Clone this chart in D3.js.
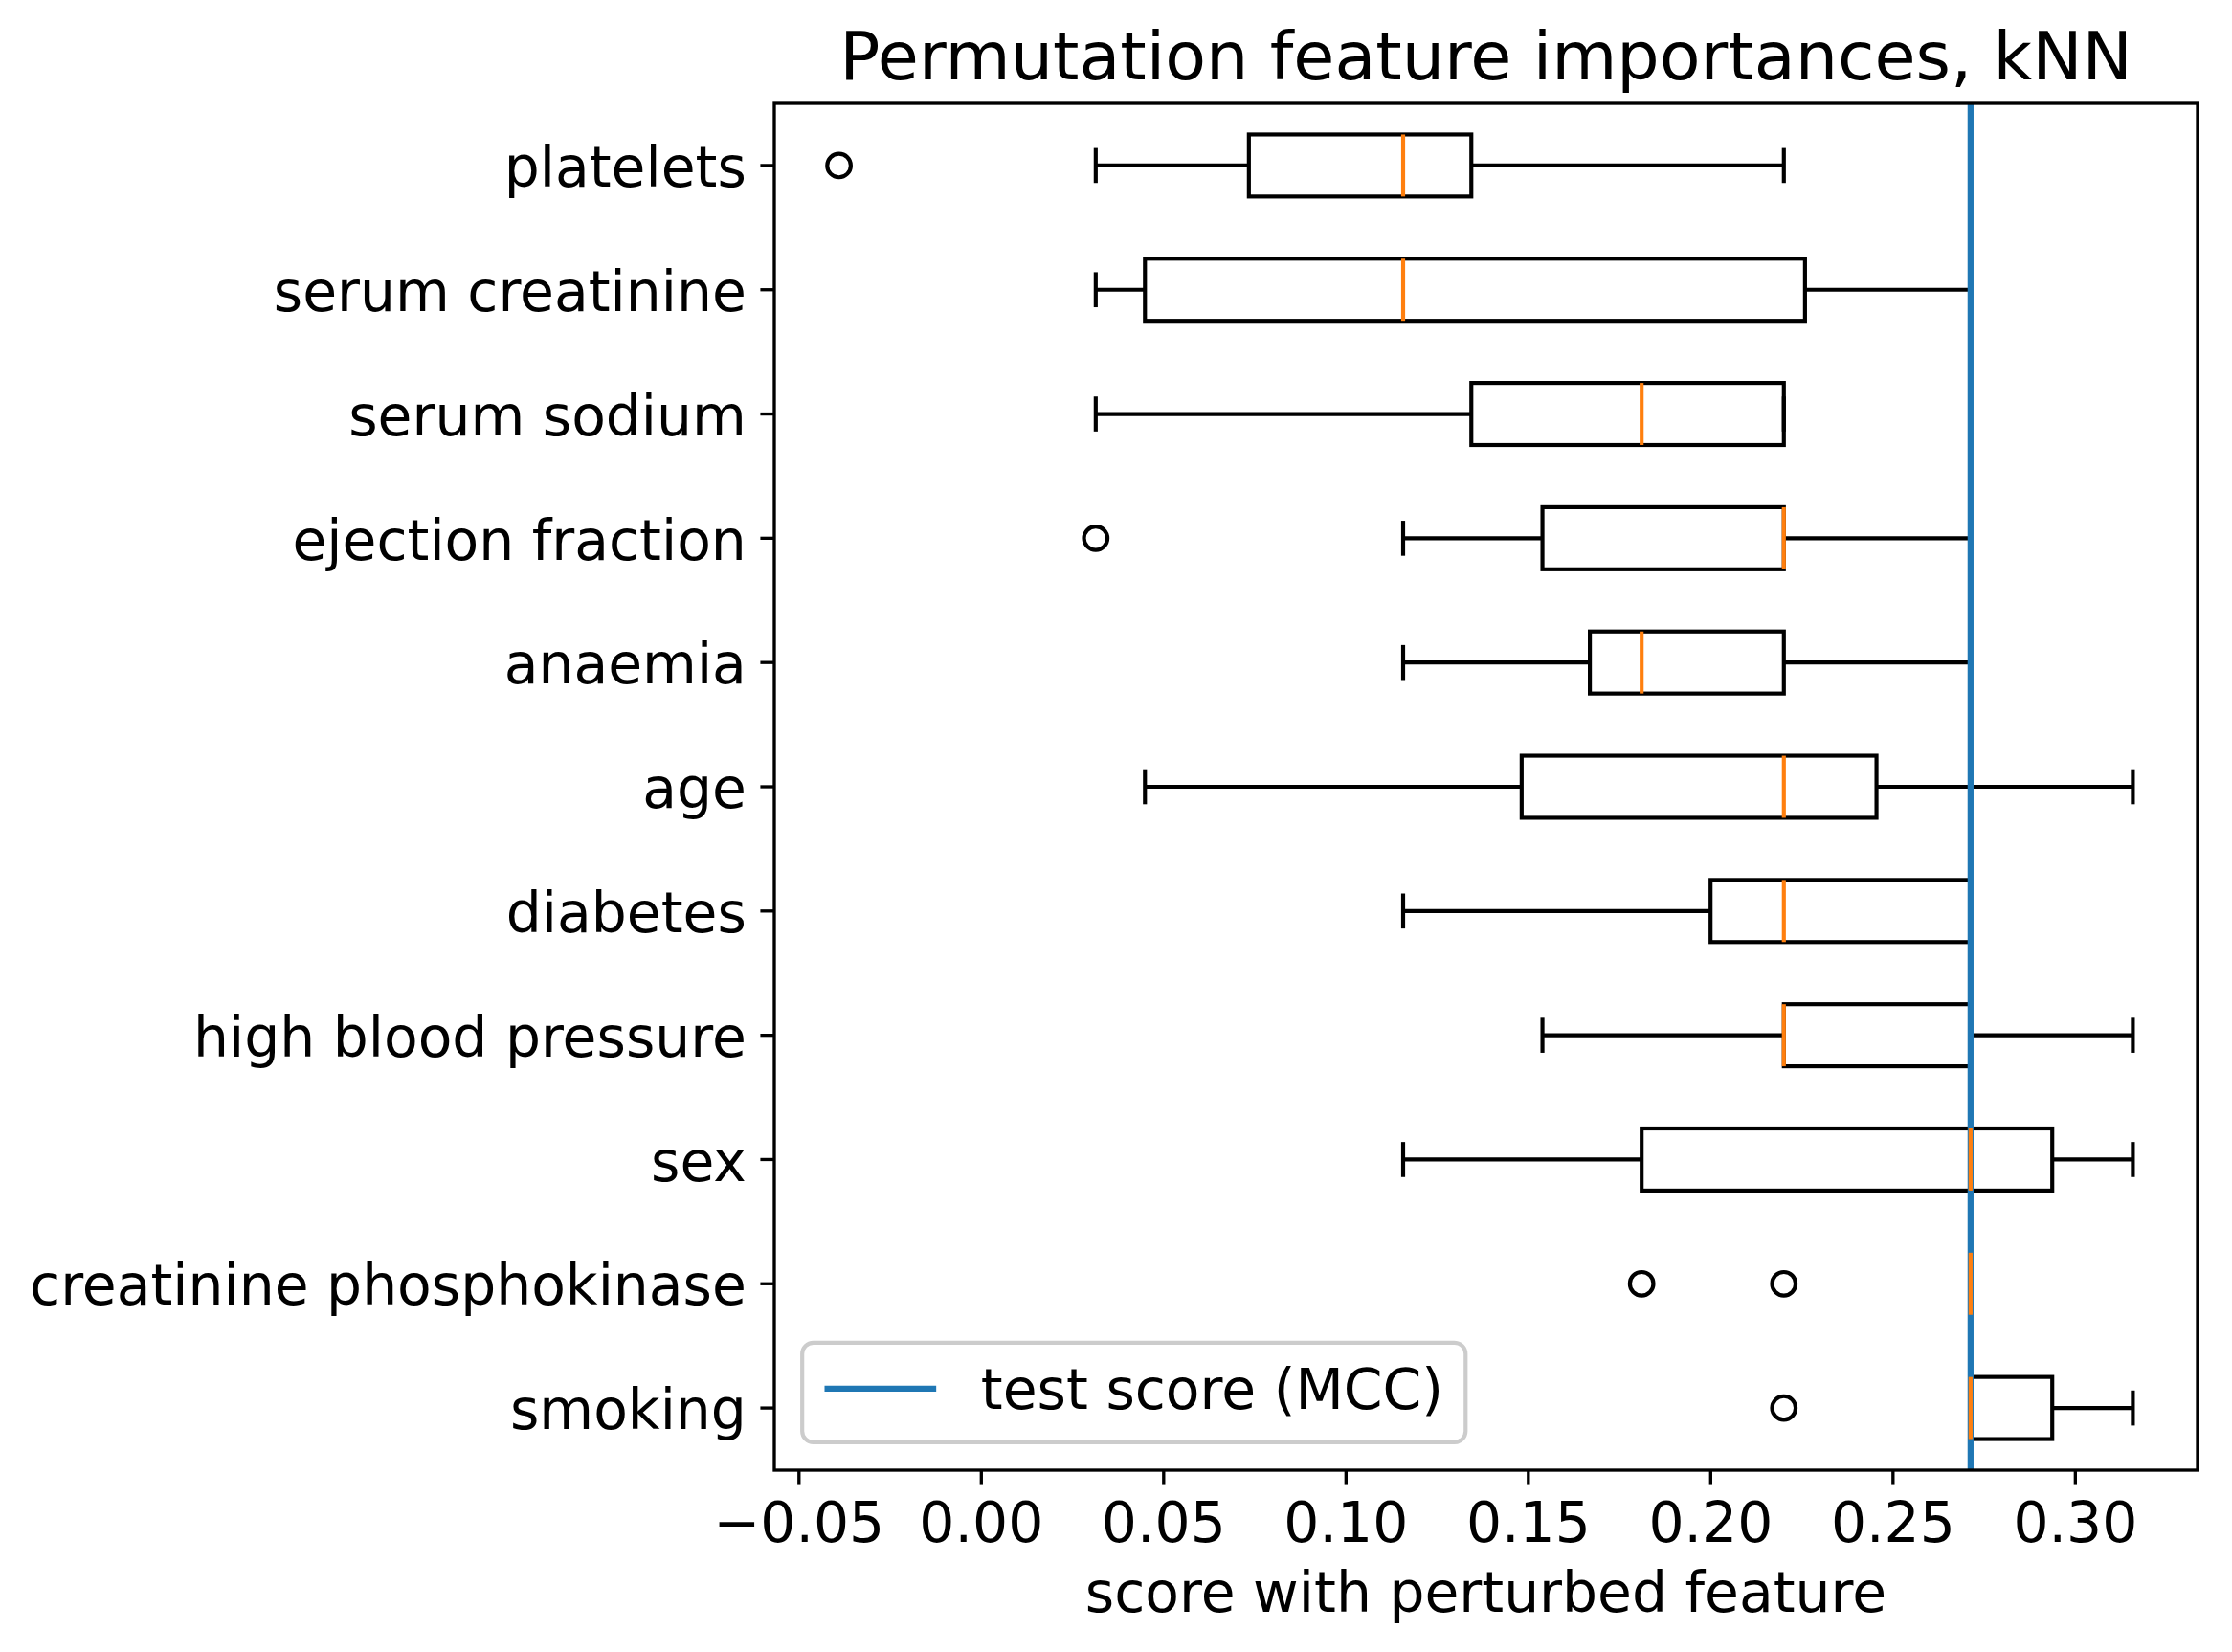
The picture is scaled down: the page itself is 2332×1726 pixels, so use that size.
<!DOCTYPE html>
<html>
<head>
<meta charset="utf-8">
<script src="https://cdn.jsdelivr.net/npm/d3@7"></script>
<style>
  html, body { margin: 0; padding: 0; background: #ffffff; }
  svg { display: block; }
</style>
</head>
<body>
<svg id="chart" width="2332" height="1726"></svg>
<script>
// ---------------- data ----------------
const categories = [
  "platelets", "serum creatinine", "serum sodium", "ejection fraction",
  "anaemia", "age", "diabetes", "high blood pressure", "sex",
  "creatinine phosphokinase", "smoking"
];
const whiskerLow  = [0.0315, 0.0315, 0.0315, 0.1158, 0.1158, 0.0450, 0.1158, 0.1540, 0.1158, 0.2714, 0.2714];
const q1          = [0.0735, 0.0450, 0.1345, 0.1540, 0.1670, 0.1483, 0.2001, 0.2202, 0.1812, 0.2714, 0.2714];
const medians     = [0.1158, 0.1158, 0.1812, 0.2202, 0.1812, 0.2202, 0.2202, 0.2202, 0.2714, 0.2714, 0.2714];
const q3          = [0.1345, 0.2260, 0.2202, 0.2202, 0.2202, 0.2456, 0.2714, 0.2714, 0.2938, 0.2714, 0.2938];
const whiskerHigh = [0.2202, 0.2714, 0.2202, 0.2714, 0.2714, 0.3159, 0.2714, 0.3159, 0.3159, 0.2714, 0.3159];
const outliers    = [[-0.0389], [], [], [0.0315], [], [], [], [], [], [0.1812, 0.2202], [0.2202]];
const testScore = 0.2714;
const xTicks = [-0.05, 0.00, 0.05, 0.10, 0.15, 0.20, 0.25, 0.30];
const titleText = "Permutation feature importances, kNN";
const xLabelText = "score with perturbed feature";
const legendLabel = "test score (MCC)";

(function draw() {
  // ---------------- layout ----------------
  const PT = 300 / 72;             // pixels per point at 300 dpi
  const FONT = "DejaVu Sans, Liberation Sans, sans-serif";
  const axL = 809, axR = 2296, axT = 108, axB = 1536;
  const BLUE = "#1f77b4", ORANGE = "#ff7f0e";

  const svg = d3.select("#chart");
  svg.append("rect").attr("width", 2332).attr("height", 1726).attr("fill", "#ffffff");

  // x domain as matplotlib: data extent + 5% margins
  const allVals = [].concat(whiskerLow, whiskerHigh, outliers.flat(), [testScore]);
  const vmin = d3.min(allVals), vmax = d3.max(allVals);
  const pad = (vmax - vmin) * 0.05;
  const x = d3.scaleLinear().domain([vmin - pad, vmax + pad]).range([axL, axR]);
  const y = d3.scaleBand().domain(categories).range([axT, axB]).paddingInner(0).paddingOuter(0);
  const bw = y.bandwidth();
  const cy = c => y(c) + bw / 2;

  const lw = 1.0 * PT;
  const plot = svg.append("g");

  // boxes, whiskers, caps, fliers
  categories.forEach((c, i) => {
    const g = plot.append("g");
    const yc = cy(c);
    const boxH = 0.5 * bw;
    const capH = 0.25 * bw;
    g.append("line").attr("x1", x(whiskerLow[i])).attr("x2", x(q1[i]))
      .attr("y1", yc).attr("y2", yc).attr("stroke", "#000").attr("stroke-width", lw);
    g.append("line").attr("x1", x(q3[i])).attr("x2", x(whiskerHigh[i]))
      .attr("y1", yc).attr("y2", yc).attr("stroke", "#000").attr("stroke-width", lw);
    [whiskerLow[i], whiskerHigh[i]].forEach(v => {
      g.append("line").attr("x1", x(v)).attr("x2", x(v))
        .attr("y1", yc - capH / 2).attr("y2", yc + capH / 2)
        .attr("stroke", "#000").attr("stroke-width", lw).attr("stroke-linecap", "square");
    });
    g.append("rect").attr("x", x(q1[i])).attr("y", yc - boxH / 2)
      .attr("width", Math.max(0, x(q3[i]) - x(q1[i]))).attr("height", boxH)
      .attr("fill", "none").attr("stroke", "#000").attr("stroke-width", lw);
    outliers[i].forEach(v => {
      g.append("circle").attr("cx", x(v)).attr("cy", yc).attr("r", 3 * PT - 0.2)
        .attr("fill", "none").attr("stroke", "#000").attr("stroke-width", lw);
    });
  });

  // test score line
  plot.append("line").attr("x1", x(testScore)).attr("x2", x(testScore))
    .attr("y1", axT).attr("y2", axB).attr("stroke", BLUE).attr("stroke-width", 1.5 * PT);

  // medians on top
  categories.forEach((c, i) => {
    const yc = cy(c);
    const boxH = 0.5 * bw;
    plot.append("line").attr("x1", x(medians[i])).attr("x2", x(medians[i]))
      .attr("y1", yc - boxH / 2).attr("y2", yc + boxH / 2)
      .attr("stroke", ORANGE).attr("stroke-width", lw);
  });

  // ---------------- axes ----------------
  const tickLen = 3.5 * PT, tickPad = 3.5 * PT, fs = 14 * PT;

  const xAxis = svg.append("g").attr("transform", `translate(0,${axB})`)
    .call(d3.axisBottom(x).tickValues(xTicks).tickFormat(d3.format(".2f"))
      .tickSize(tickLen).tickPadding(tickPad));
  xAxis.select(".domain").remove();
  xAxis.selectAll(".tick line").attr("stroke", "#000").attr("stroke-width", 0.8 * PT);
  xAxis.selectAll(".tick text").attr("font-family", FONT).attr("font-size", fs)
    .attr("fill", "#000").attr("y", 75).attr("dy", 0);

  const yAxis = svg.append("g").attr("transform", `translate(${axL},0)`)
    .call(d3.axisLeft(y).tickSize(tickLen).tickPadding(tickPad));
  yAxis.select(".domain").remove();
  yAxis.selectAll(".tick line").attr("stroke", "#000").attr("stroke-width", 0.8 * PT);
  yAxis.selectAll(".tick text").attr("font-family", FONT).attr("font-size", fs)
    .attr("fill", "#000").attr("dy", "0.38em");

  // spines
  svg.append("rect").attr("x", axL).attr("y", axT)
    .attr("width", axR - axL).attr("height", axB - axT)
    .attr("fill", "none").attr("stroke", "#000").attr("stroke-width", 0.8 * PT);

  // title and x label
  const midX = (axL + axR) / 2;
  svg.append("text").attr("x", midX).attr("y", 83).attr("text-anchor", "middle")
    .attr("font-family", FONT).attr("font-size", 70).attr("fill", "#000").text(titleText);
  svg.append("text").attr("x", midX).attr("y", 1684).attr("text-anchor", "middle")
    .attr("font-family", FONT).attr("font-size", fs).attr("fill", "#000").text(xLabelText);

  // ---------------- legend ----------------
  const lg = svg.append("g");
  const lgLeft = axL + 0.5 * fs, lgBottom = axB - 0.5 * fs;
  const lgText = lg.append("text").attr("font-family", FONT).attr("font-size", fs)
    .attr("fill", "#000").text(legendLabel);
  const textW = lgText.node().getComputedTextLength();
  const bpad = 0.4 * fs, handleLen = 2.0 * fs, htPad = 0.8 * fs;
  const lgW = bpad * 2 + handleLen + htPad + textW;
  const lgH = 104;
  const lgTop = lgBottom - lgH;
  lg.insert("rect", "text").attr("x", lgLeft).attr("y", lgTop).attr("width", lgW).attr("height", lgH)
    .attr("rx", 0.2 * fs).attr("ry", 0.2 * fs)
    .attr("fill", "#ffffff").attr("fill-opacity", 0.8)
    .attr("stroke", "#cccccc").attr("stroke-width", 1.0 * PT);
  lg.insert("line", "text").attr("x1", lgLeft + bpad).attr("x2", lgLeft + bpad + handleLen)
    .attr("y1", lgTop + 48).attr("y2", lgTop + 48)
    .attr("stroke", BLUE).attr("stroke-width", 1.5 * PT);
  lgText.attr("x", lgLeft + bpad + handleLen + htPad).attr("y", lgTop + 69);
})();
</script>
</body>
</html>
